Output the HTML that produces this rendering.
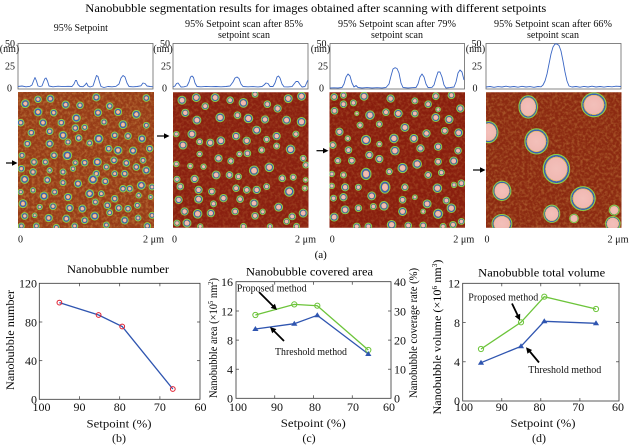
<!DOCTYPE html>
<html><head><meta charset="utf-8"><style>
html,body{margin:0;padding:0;background:#fff;}
svg{display:block;font-family:"Liberation Serif",serif;}
</style></head><body>
<svg width="629" height="445" viewBox="0 0 629 445" xmlns="http://www.w3.org/2000/svg">
<defs>
<radialGradient id="g1"><stop offset="0" stop-color="#f2bcb4"/><stop offset="0.42" stop-color="#f0b8b0"/><stop offset="0.43" stop-color="#d8ae4a"/><stop offset="0.53" stop-color="#d0a040"/><stop offset="0.54" stop-color="#3f63b4"/><stop offset="0.93" stop-color="#3f63b4"/><stop offset="0.94" stop-color="#8ccd48"/><stop offset="1" stop-color="#8ccd48"/></radialGradient>
<radialGradient id="g2"><stop offset="0" stop-color="#f2bcb6"/><stop offset="0.55" stop-color="#f0b8b2"/><stop offset="0.56" stop-color="#d8b050"/><stop offset="0.63" stop-color="#d0a848"/><stop offset="0.64" stop-color="#3d62b4"/><stop offset="0.93" stop-color="#3d62b4"/><stop offset="0.94" stop-color="#8ccd48"/><stop offset="1" stop-color="#8ccd48"/></radialGradient>
<radialGradient id="g4"><stop offset="0" stop-color="#f3c0ba"/><stop offset="0.78" stop-color="#f0b8b2"/><stop offset="0.79" stop-color="#dcbc5a"/><stop offset="0.84" stop-color="#d4b050"/><stop offset="0.845" stop-color="#3d62b4"/><stop offset="0.95" stop-color="#3d62b4"/><stop offset="0.955" stop-color="#8ccd48"/><stop offset="1" stop-color="#8ccd48"/></radialGradient>
<filter id="tx" x="0" y="0" width="100%" height="100%">
<feTurbulence type="fractalNoise" baseFrequency="0.12" numOctaves="2" seed="5"/>
<feColorMatrix type="matrix" values="0 0 0 0 0.8  0 0 0 0 0.5  0 0 0 0 0.12  0 0 0 -2.4 1.45"/>
</filter>
</defs>

<!-- Main title -->
<text x="315.8" y="11.8" font-size="12" text-anchor="middle" textLength="461" lengthAdjust="spacingAndGlyphs">Nanobubble segmentation results for images obtained after scanning with different setpoints</text>

<!-- Subtitles -->
<g font-size="10" text-anchor="middle" fill="#111">
<text x="80.8" y="30.8">95% Setpoint</text>
<text x="244" y="27" textLength="118" lengthAdjust="spacingAndGlyphs">95% Setpoint scan after 85%</text>
<text x="244" y="38">setpoint scan</text>
<text x="397" y="27" textLength="118" lengthAdjust="spacingAndGlyphs">95% Setpoint scan after 79%</text>
<text x="397" y="38">setpoint scan</text>
<text x="553" y="27" textLength="118" lengthAdjust="spacingAndGlyphs">95% Setpoint scan after 66%</text>
<text x="553" y="38">setpoint scan</text>
</g>

<!-- Profile boxes -->
<g fill="none" stroke="#666" stroke-width="0.8">
<rect x="18" y="43.5" width="135" height="45.5"/>
<rect x="173" y="43.5" width="135" height="45.5"/>
<rect x="330" y="43.5" width="134.5" height="45.5"/>
<rect x="486" y="43.5" width="135" height="45.5"/>
</g>
<!-- Profile axis labels -->
<g font-size="10" text-anchor="middle" fill="#111">
<text x="10" y="47">50</text><text x="9.5" y="52">(nm)</text><text x="10" y="69.5">25</text><text x="9.5" y="91.5">0</text>
<text x="165" y="47">50</text><text x="163" y="52">(nm)</text><text x="166" y="69.5">25</text><text x="164.5" y="91.5">0</text>
<text x="321.5" y="47">50</text><text x="320.5" y="52">(nm)</text><text x="323" y="69.5">25</text><text x="321.5" y="91.5">0</text>
<text x="476.5" y="47">50</text><text x="475.5" y="52">(nm)</text><text x="477" y="69.5">25</text><text x="475" y="91.5">0</text>
</g>
<!-- Profile curves -->
<g fill="none" stroke="#3a66c4" stroke-width="0.9" stroke-linejoin="round">
<polyline points="18,86.5 22,86 26,86.8 30,86.3 32,85 33.5,81 35,77.5 36.5,81 38,86 40,86.5 42,86 43.5,82 45,78.5 46,78 47.5,81 49,86 53,86.8 58,86.2 63,86.6 68,86.3 72,86.5 74,84 75.5,80.5 76.5,80.5 78,84.5 80,86.5 83,86.7 85,85 86.5,83 88,86 90,87 93,86 95,80 96.5,75.5 98,76.5 99.5,82 101,86.5 104,87.5 108,86.5 112,86.8 116,86.3 119,84 121,78 123,75.5 125,77 127,83 129,86.5 133,86.8 137,86.5 141,85.8 143,83 145,83.5 147,86 150,86.5 153,86.8"/>
<polyline points="173,87 175,86 176.5,83.5 178,83 179.5,85 181,87 184,86.8 187,86 189,82 190.5,77 192,76 193.5,77.5 195,83 197,86.5 201,86.8 206,86.4 211,86.7 216,86.5 221,86.8 226,86.5 230,86 233,82 235,78 237,77 239,78.5 241,84 243,86.5 248,86.8 253,86.6 258,86.9 262,86.5 264,85 266,83 268,83.5 270,86.5 273,86.5 275,83 277,77 278.5,76 280,78 282,84 284,86.8 288,86.9 292,86.6 294,84 296,81.5 298,81.5 300,84.5 302,87 305,86.5 307,82 308,80"/>
<polyline points="330,88 334,87.8 338,88 342,87.5 344,84 346,77 348,74 350,76 352,83 354,87 356,85.5 358,87.5 362,88 367,87.6 372,88 377,87.7 382,88 386,87.5 389,84 391,76 393,69 395,67.7 397,68.5 399,73 401,83 403,87.5 408,88 412,87.7 416,87.5 418,84 420,77 422,74 424,77 426,84 428,87.5 432,87.3 434,85 436,78 438,72 440,72 442,77 444,85 446,88 450,87.6 454,87 456,82 458,73 460,70 462,72 464,80"/>
<polyline points="486,87 490,86.5 494,87.3 498,86.6 502,87 506,86.2 510,87 514,86.5 518,87.2 522,86.3 526,87 530,86.6 534,87.3 538,86.5 541,86.8 543,85 545,81 547,74 549,64 551,54 553,47 555,44 557,44 559,45.5 561,51 563,61 565,72 567,81 569,86 572,87 576,86.5 580,87.2 584,86.4 588,87 592,86.2 596,87 600,86.5 604,87.1 608,86.4 612,86.8 616,86.2 621,86.5"/>
</g>

<!-- Panel 1 image -->
<svg x="18" y="92" width="136" height="136" viewBox="0 0 408 408">
<rect width="408" height="408" fill="#973c18"/>
<rect width="408" height="408" filter="url(#tx)" opacity="0.35"/>
<g fill="url(#g1)" stroke="#8ccd48" stroke-width="3">
<circle cx="22" cy="35" r="12"/><circle cx="60" cy="22" r="10"/><circle cx="97" cy="20" r="11"/><circle cx="143" cy="38" r="11"/><circle cx="186" cy="40" r="10"/><circle cx="235" cy="16" r="11"/><circle cx="275" cy="42" r="10"/><circle cx="385" cy="18" r="10"/>
<circle cx="60" cy="60" r="12"/><circle cx="107" cy="62" r="10"/><circle cx="175" cy="78" r="12"/><circle cx="240" cy="62" r="11"/><circle cx="300" cy="60" r="11"/><circle cx="355" cy="67" r="12"/>
<circle cx="8" cy="92" r="10"/><circle cx="75" cy="92" r="11"/><circle cx="130" cy="92" r="10"/><circle cx="200" cy="106" r="9"/><circle cx="258" cy="90" r="9"/><circle cx="315" cy="98" r="12"/><circle cx="385" cy="100" r="9"/>
<circle cx="40" cy="122" r="10"/><circle cx="95" cy="118" r="10"/><circle cx="135" cy="130" r="12"/><circle cx="172" cy="108" r="10"/><circle cx="182" cy="138" r="10"/><circle cx="242" cy="140" r="13"/><circle cx="290" cy="130" r="10"/><circle cx="330" cy="132" r="10"/><circle cx="372" cy="140" r="11"/>
<circle cx="28" cy="155" r="10"/><circle cx="95" cy="155" r="11"/><circle cx="150" cy="150" r="9"/><circle cx="215" cy="153" r="9"/><circle cx="272" cy="170" r="10"/><circle cx="300" cy="175" r="12"/><circle cx="345" cy="176" r="11"/><circle cx="395" cy="170" r="10"/>
<circle cx="12" cy="190" r="9"/><circle cx="48" cy="210" r="10"/><circle cx="82" cy="210" r="9"/><circle cx="108" cy="190" r="10"/><circle cx="148" cy="190" r="13"/><circle cx="172" cy="212" r="8"/><circle cx="200" cy="212" r="10"/><circle cx="238" cy="210" r="12"/><circle cx="288" cy="205" r="10"/><circle cx="325" cy="213" r="10"/><circle cx="375" cy="205" r="9"/>
<circle cx="10" cy="230" r="10"/><circle cx="45" cy="240" r="10"/><circle cx="95" cy="235" r="8"/><circle cx="135" cy="240" r="9"/><circle cx="165" cy="230" r="8"/><circle cx="235" cy="245" r="10"/><circle cx="265" cy="225" r="9"/><circle cx="290" cy="245" r="9"/><circle cx="320" cy="245" r="10"/><circle cx="355" cy="225" r="10"/><circle cx="385" cy="235" r="11"/>
<circle cx="20" cy="262" r="12"/><circle cx="88" cy="264" r="10"/><circle cx="135" cy="272" r="9"/><circle cx="180" cy="275" r="11"/><circle cx="225" cy="262" r="13"/><circle cx="262" cy="268" r="10"/><circle cx="315" cy="290" r="10"/><circle cx="335" cy="290" r="10"/><circle cx="370" cy="280" r="12"/><circle cx="402" cy="285" r="9"/>
<circle cx="8" cy="300" r="8"/><circle cx="45" cy="295" r="8"/><circle cx="78" cy="312" r="12"/><circle cx="110" cy="300" r="9"/><circle cx="150" cy="315" r="11"/><circle cx="215" cy="305" r="12"/><circle cx="250" cy="305" r="9"/><circle cx="290" cy="320" r="10"/><circle cx="362" cy="310" r="8"/><circle cx="398" cy="315" r="7"/>
<circle cx="15" cy="335" r="12"/><circle cx="65" cy="345" r="8"/><circle cx="105" cy="343" r="10"/><circle cx="155" cy="348" r="11"/><circle cx="193" cy="350" r="11"/><circle cx="232" cy="330" r="9"/><circle cx="268" cy="340" r="10"/><circle cx="302" cy="348" r="10"/><circle cx="330" cy="350" r="10"/><circle cx="358" cy="340" r="9"/>
<circle cx="20" cy="372" r="10"/><circle cx="50" cy="370" r="7"/><circle cx="92" cy="378" r="11"/><circle cx="145" cy="380" r="11"/><circle cx="200" cy="385" r="10"/><circle cx="230" cy="372" r="12"/><circle cx="275" cy="362" r="9"/><circle cx="320" cy="385" r="11"/><circle cx="360" cy="378" r="9"/><circle cx="402" cy="370" r="9"/>
<circle cx="10" cy="402" r="9"/><circle cx="55" cy="402" r="9"/><circle cx="115" cy="406" r="9"/><circle cx="170" cy="402" r="9"/><circle cx="265" cy="399" r="9"/><circle cx="388" cy="402" r="10"/>
</g>
</svg>

<!-- Panel 2 image -->
<svg x="173" y="92" width="135.5" height="136" viewBox="0 0 408 408">
<rect width="408" height="408" fill="#8a2010"/>
<rect width="408" height="408" filter="url(#tx)" opacity="0.2"/>
<g fill="url(#g2)" stroke="#8ccd48" stroke-width="3">
<circle cx="27" cy="24" r="12"/><circle cx="70" cy="16" r="12"/><circle cx="97" cy="42" r="10"/><circle cx="127" cy="16" r="12"/><circle cx="172" cy="24" r="10"/><circle cx="212" cy="32" r="13"/><circle cx="247" cy="6" r="9"/><circle cx="284" cy="36" r="10"/><circle cx="315" cy="49" r="11"/><circle cx="347" cy="19" r="12"/><circle cx="387" cy="12" r="12"/>
<circle cx="37" cy="62" r="11"/><circle cx="72" cy="84" r="12"/><circle cx="142" cy="76" r="13"/><circle cx="194" cy="69" r="10"/><circle cx="227" cy="79" r="13"/><circle cx="277" cy="82" r="11"/><circle cx="342" cy="84" r="12"/><circle cx="387" cy="89" r="13"/>
<circle cx="10" cy="126" r="8"/><circle cx="57" cy="126" r="12"/><circle cx="80" cy="149" r="9"/><circle cx="112" cy="152" r="11"/><circle cx="144" cy="146" r="12"/><circle cx="190" cy="132" r="11"/><circle cx="222" cy="146" r="11"/><circle cx="252" cy="114" r="12"/><circle cx="282" cy="142" r="9"/><circle cx="312" cy="132" r="11"/><circle cx="370" cy="126" r="9"/>
<circle cx="30" cy="159" r="12"/><circle cx="80" cy="186" r="8"/><circle cx="137" cy="199" r="11"/><circle cx="174" cy="207" r="9"/><circle cx="200" cy="186" r="8"/><circle cx="224" cy="184" r="10"/><circle cx="267" cy="174" r="9"/><circle cx="312" cy="162" r="9"/><circle cx="354" cy="172" r="13"/><circle cx="392" cy="199" r="9"/><circle cx="400" cy="219" r="9"/>
<circle cx="10" cy="216" r="8"/><circle cx="52" cy="222" r="8"/><circle cx="92" cy="224" r="8"/><circle cx="130" cy="249" r="12"/><circle cx="170" cy="249" r="10"/><circle cx="197" cy="254" r="9"/><circle cx="244" cy="236" r="14"/><circle cx="290" cy="226" r="13"/><circle cx="329" cy="259" r="10"/><circle cx="362" cy="256" r="9"/><circle cx="399" cy="264" r="7"/>
<circle cx="12" cy="262" r="9"/><circle cx="65" cy="261" r="11"/><circle cx="22" cy="284" r="10"/><circle cx="77" cy="294" r="11"/><circle cx="117" cy="299" r="10"/><circle cx="152" cy="319" r="11"/><circle cx="190" cy="289" r="10"/><circle cx="222" cy="294" r="10"/><circle cx="252" cy="294" r="11"/><circle cx="282" cy="284" r="9"/><circle cx="350" cy="299" r="14"/><circle cx="397" cy="289" r="8"/>
<circle cx="17" cy="324" r="11"/><circle cx="77" cy="322" r="12"/><circle cx="122" cy="336" r="9"/><circle cx="202" cy="322" r="10"/><circle cx="244" cy="334" r="12"/><circle cx="270" cy="360" r="8"/><circle cx="318" cy="346" r="12"/><circle cx="359" cy="374" r="10"/><circle cx="392" cy="364" r="12"/>
<circle cx="35" cy="359" r="11"/><circle cx="74" cy="366" r="13"/><circle cx="114" cy="364" r="11"/><circle cx="187" cy="359" r="10"/><circle cx="247" cy="372" r="10"/><circle cx="342" cy="389" r="9"/>
<circle cx="12" cy="394" r="9"/><circle cx="42" cy="394" r="12"/><circle cx="82" cy="404" r="8"/><circle cx="212" cy="404" r="9"/><circle cx="292" cy="404" r="8"/><circle cx="372" cy="404" r="9"/>
</g>
</svg>

<!-- Panel 3 image -->
<svg x="329.5" y="92" width="135.5" height="136" viewBox="0 0 408 408">
<rect width="408" height="408" fill="#891e0e"/>
<rect width="408" height="408" filter="url(#tx)" opacity="0.2"/>
<g fill="url(#g2)" stroke="#8ccd48" stroke-width="3">
<circle cx="14" cy="14" r="10"/><circle cx="42" cy="9" r="9"/><circle cx="72" cy="32" r="9"/><circle cx="104" cy="12" r="12"/><circle cx="184" cy="19" r="11"/><circle cx="257" cy="26" r="9"/><circle cx="297" cy="36" r="10"/><circle cx="320" cy="12" r="10"/><circle cx="367" cy="9" r="10"/>
<circle cx="15" cy="56" r="10"/><circle cx="42" cy="36" r="10"/><circle cx="82" cy="64" r="6"/><circle cx="122" cy="69" r="13"/><circle cx="170" cy="60" r="10"/><circle cx="207" cy="64" r="12"/><circle cx="257" cy="64" r="10"/><circle cx="320" cy="76" r="12"/><circle cx="360" cy="82" r="12"/><circle cx="394" cy="49" r="11"/><circle cx="327" cy="52" r="7"/>
<circle cx="30" cy="119" r="11"/><circle cx="92" cy="99" r="9"/><circle cx="150" cy="96" r="9"/><circle cx="227" cy="106" r="12"/><circle cx="292" cy="124" r="11"/><circle cx="347" cy="116" r="10"/><circle cx="389" cy="122" r="12"/>
<circle cx="55" cy="139" r="8"/><circle cx="110" cy="144" r="14"/><circle cx="150" cy="156" r="8"/><circle cx="194" cy="139" r="13"/><circle cx="254" cy="139" r="12"/><circle cx="10" cy="159" r="10"/>
<circle cx="57" cy="174" r="10"/><circle cx="120" cy="189" r="11"/><circle cx="197" cy="176" r="13"/><circle cx="274" cy="169" r="11"/><circle cx="327" cy="164" r="11"/><circle cx="387" cy="176" r="10"/>
<circle cx="25" cy="206" r="9"/><circle cx="67" cy="206" r="10"/><circle cx="150" cy="201" r="11"/><circle cx="264" cy="216" r="13"/><circle cx="327" cy="209" r="10"/><circle cx="374" cy="207" r="12"/><circle cx="220" cy="228" r="14"/>
<circle cx="7" cy="246" r="8"/><circle cx="42" cy="249" r="9"/><ellipse cx="110" cy="246" rx="15" ry="17"/><circle cx="180" cy="239" r="9"/><circle cx="297" cy="249" r="10"/><circle cx="337" cy="242" r="9"/><circle cx="397" cy="274" r="10"/><circle cx="375" cy="279" r="8"/>
<circle cx="47" cy="286" r="11"/><circle cx="87" cy="286" r="9"/><ellipse cx="167" cy="286" rx="15" ry="18"/><circle cx="227" cy="286" r="10"/><circle cx="325" cy="289" r="13"/>
<circle cx="12" cy="319" r="9"/><circle cx="42" cy="316" r="11"/><circle cx="127" cy="312" r="12"/><circle cx="220" cy="324" r="10"/><circle cx="257" cy="316" r="7"/><circle cx="294" cy="336" r="12"/><circle cx="352" cy="326" r="10"/><circle cx="7" cy="282" r="8"/>
<circle cx="47" cy="354" r="12"/><circle cx="87" cy="349" r="10"/><circle cx="132" cy="344" r="9"/><circle cx="164" cy="342" r="13"/><circle cx="220" cy="359" r="12"/><circle cx="282" cy="359" r="7"/><circle cx="327" cy="366" r="14"/><circle cx="367" cy="349" r="13"/>
<circle cx="14" cy="376" r="12"/><circle cx="82" cy="404" r="10"/><circle cx="117" cy="404" r="10"/><circle cx="187" cy="399" r="13"/><circle cx="237" cy="401" r="10"/><circle cx="282" cy="401" r="10"/><circle cx="342" cy="404" r="9"/><circle cx="372" cy="399" r="10"/><circle cx="397" cy="389" r="9"/>
</g>
</svg>

<!-- Panel 4 image -->
<svg x="486" y="92" width="135.5" height="136" viewBox="0 0 408 408">
<rect width="408" height="408" fill="#8c2a11"/>
<rect width="408" height="408" filter="url(#tx)" opacity="0.3"/>
<g fill="url(#g4)" stroke="#8ccd48" stroke-width="3">
<ellipse cx="127" cy="44" rx="28" ry="34"/><ellipse cx="325" cy="38" rx="37" ry="36"/><ellipse cx="8" cy="120" rx="28" ry="32"/><ellipse cx="152" cy="148" rx="35" ry="38"/><ellipse cx="212" cy="231" rx="40" ry="44"/><ellipse cx="292" cy="320" rx="37" ry="36"/><ellipse cx="48" cy="297" rx="27" ry="29"/><ellipse cx="198" cy="366" rx="24" ry="26"/><circle cx="265" cy="380" r="13"/><circle cx="386" cy="355" r="15"/><ellipse cx="48" cy="396" rx="30" ry="28"/><circle cx="382" cy="396" r="22"/>
</g>
</svg>

<!-- image arrows -->
<g fill="#000" stroke="#000">
<line x1="6" y1="163" x2="13" y2="163" stroke-width="1.2"/><polygon points="17.5,163 12,160.3 12,165.7" stroke="none"/>
<line x1="157" y1="136" x2="165" y2="136" stroke-width="1.2"/><polygon points="169.5,136 164,133.3 164,138.7" stroke="none"/>
<line x1="316.5" y1="150.7" x2="324" y2="150.7" stroke-width="1.2"/><polygon points="328.5,150.7 323,148 323,153.4" stroke="none"/>
<line x1="473" y1="170" x2="481" y2="170" stroke-width="1.2"/><polygon points="485.5,170 480,167.3 480,172.7" stroke="none"/>
</g>

<!-- image axis labels -->
<g font-size="10" fill="#111">
<text x="20.5" y="242.5" text-anchor="middle">0</text><text x="143" y="242.5" textLength="21" lengthAdjust="spacingAndGlyphs">2 μm</text>
<text x="174.5" y="242.5" text-anchor="middle">0</text><text x="295" y="242.5" textLength="21" lengthAdjust="spacingAndGlyphs">2 μm</text>
<text x="332.3" y="242.5" text-anchor="middle">0</text><text x="453.3" y="242.5" textLength="21" lengthAdjust="spacingAndGlyphs">2 μm</text>
<text x="487" y="242.5" text-anchor="middle">0</text><text x="607.5" y="242.5" textLength="21" lengthAdjust="spacingAndGlyphs">2 μm</text>
</g>
<text x="320.7" y="258" font-size="11" text-anchor="middle">(a)</text>

<!-- ============ Chart (b) ============ -->
<text x="118" y="273" font-size="12" text-anchor="middle" textLength="102" lengthAdjust="spacingAndGlyphs">Nanobubble number</text>
<rect x="39.3" y="283.3" width="160.7" height="116" fill="none" stroke="#333" stroke-width="0.8"/>
<g stroke="#333" stroke-width="0.7">
<line x1="79.5" y1="399.3" x2="79.5" y2="396.3"/><line x1="119.7" y1="399.3" x2="119.7" y2="396.3"/><line x1="159.9" y1="399.3" x2="159.9" y2="396.3"/>
<line x1="79.5" y1="283.3" x2="79.5" y2="286.3"/><line x1="119.7" y1="283.3" x2="119.7" y2="286.3"/><line x1="159.9" y1="283.3" x2="159.9" y2="286.3"/>
<line x1="39.3" y1="360.7" x2="42.3" y2="360.7"/><line x1="39.3" y1="322" x2="42.3" y2="322"/>
<line x1="200" y1="360.7" x2="197" y2="360.7"/><line x1="200" y1="322" x2="197" y2="322"/>
</g>
<g font-size="12" fill="#111" text-anchor="end">
<text x="37" y="403.5">0</text><text x="37" y="365">40</text><text x="37" y="326.3">80</text><text x="37" y="287.6">120</text>
</g>
<g font-size="12" fill="#111" text-anchor="middle">
<text x="41.5" y="411">100</text><text x="79.5" y="411">90</text><text x="119.7" y="411">80</text><text x="159.9" y="411">70</text><text x="200.5" y="411">60</text>
<text x="119" y="427.5" textLength="65" lengthAdjust="spacingAndGlyphs">Setpoint  (%)</text>
<text x="119" y="442">(b)</text>
</g>
<text transform="translate(14,340) rotate(-90)" font-size="12" text-anchor="middle" textLength="100" lengthAdjust="spacingAndGlyphs">Nanobubble number</text>
<polyline points="59.4,302.6 98.6,315 122.2,326.5 172.8,389" fill="none" stroke="#2f55b0" stroke-width="1.3"/>
<g fill="none" stroke="#e02030" stroke-width="1">
<circle cx="59.4" cy="302.6" r="2.4"/><circle cx="98.6" cy="315" r="2.4"/><circle cx="122.2" cy="326.5" r="2.4"/><circle cx="172.8" cy="389" r="2.4"/>
</g>

<!-- ============ Chart (c) ============ -->
<text x="309.5" y="275.5" font-size="12" text-anchor="middle" textLength="127" lengthAdjust="spacingAndGlyphs">Nanobubble covered area</text>
<rect x="236" y="281.7" width="155" height="116.6" fill="none" stroke="#333" stroke-width="0.8"/>
<g stroke="#333" stroke-width="0.7">
<line x1="274.75" y1="398.3" x2="274.75" y2="395.3"/><line x1="313.5" y1="398.3" x2="313.5" y2="395.3"/><line x1="352.25" y1="398.3" x2="352.25" y2="395.3"/>
<line x1="274.75" y1="281.7" x2="274.75" y2="284.7"/><line x1="313.5" y1="281.7" x2="313.5" y2="284.7"/><line x1="352.25" y1="281.7" x2="352.25" y2="284.7"/>
<line x1="236" y1="369.2" x2="239" y2="369.2"/><line x1="236" y1="340.1" x2="239" y2="340.1"/><line x1="236" y1="311" x2="239" y2="311"/>
<line x1="391" y1="369.2" x2="388" y2="369.2"/><line x1="391" y1="340.1" x2="388" y2="340.1"/><line x1="391" y1="311" x2="388" y2="311"/>
</g>
<g font-size="12" fill="#111" text-anchor="end">
<text x="233" y="402.5">0</text><text x="233" y="373.5">4</text><text x="233" y="344.4">8</text><text x="233" y="315.3">12</text><text x="233" y="286">16</text>
</g>
<g font-size="12" fill="#111" text-anchor="start">
<text x="394" y="402.5">0</text><text x="394" y="373.5">10</text><text x="394" y="344.4">20</text><text x="394" y="315.3">30</text><text x="394" y="286">40</text>
</g>
<g font-size="12" fill="#111" text-anchor="middle">
<text x="238" y="411">100</text><text x="277" y="411">90</text><text x="315" y="411">80</text><text x="353" y="411">70</text><text x="389" y="411">60</text>
<text x="313.3" y="427" textLength="65" lengthAdjust="spacingAndGlyphs">Setpoint  (%)</text>
<text x="309" y="442">(c)</text>
</g>
<text transform="translate(217,338) rotate(-90)" font-size="11.5" text-anchor="middle" textLength="120" lengthAdjust="spacingAndGlyphs">Nanobubble area (×10<tspan font-size="7" dy="-4">5</tspan><tspan dy="4"> nm</tspan><tspan font-size="7" dy="-4">2</tspan><tspan dy="4">)</tspan></text>
<text transform="translate(417,333) rotate(-90)" font-size="11.5" text-anchor="middle" textLength="130" lengthAdjust="spacingAndGlyphs">Nanobubble coverage rate (%)</text>
<polyline points="255.4,315 294.3,304.4 317.3,305.7 368.3,350" fill="none" stroke="#6cc43a" stroke-width="1.3"/>
<polyline points="255.4,329 294.3,323.7 317.3,315.3 368.3,354" fill="none" stroke="#2f55b0" stroke-width="1.3"/>
<g fill="none" stroke="#6cc43a" stroke-width="1">
<circle cx="255.4" cy="315" r="2.6"/><circle cx="294.3" cy="304.4" r="2.6"/><circle cx="317.3" cy="305.7" r="2.6"/><circle cx="368.3" cy="350" r="2.6"/>
</g>
<g fill="#2f55b0">
<polygon points="255.4,326 252.3,331 258.5,331"/><polygon points="294.3,320.7 291.2,325.7 297.4,325.7"/><polygon points="317.3,312.3 314.2,317.3 320.4,317.3"/><polygon points="368.3,351 365.2,356 371.4,356"/>
</g>
<g font-size="11" fill="#111">
<text x="236.7" y="291.5" textLength="70" lengthAdjust="spacingAndGlyphs">Proposed method</text>
<text x="275" y="355" textLength="72" lengthAdjust="spacingAndGlyphs">Threshold method</text>
</g>
<g stroke="#000" stroke-width="1.8" fill="#000">
<line x1="259" y1="292" x2="273" y2="306"/><polygon points="277,310 270.7,307.9 274.9,303.7" stroke="none"/>
<line x1="284" y1="341" x2="273" y2="330"/><polygon points="270,327 276.4,329.1 272.2,333.3" stroke="none"/>
</g>

<!-- ============ Chart (d) ============ -->
<text x="541.7" y="276.5" font-size="12" text-anchor="middle" textLength="127" lengthAdjust="spacingAndGlyphs">Nanobubble total volume</text>
<rect x="462.7" y="283.3" width="156.3" height="117.7" fill="none" stroke="#333" stroke-width="0.8"/>
<g stroke="#333" stroke-width="0.7">
<line x1="501.8" y1="401" x2="501.8" y2="398"/><line x1="540.8" y1="401" x2="540.8" y2="398"/><line x1="579.9" y1="401" x2="579.9" y2="398"/>
<line x1="501.8" y1="283.3" x2="501.8" y2="286.3"/><line x1="540.8" y1="283.3" x2="540.8" y2="286.3"/><line x1="579.9" y1="283.3" x2="579.9" y2="286.3"/>
<line x1="462.7" y1="361.8" x2="465.7" y2="361.8"/><line x1="462.7" y1="322.6" x2="465.7" y2="322.6"/>
<line x1="619" y1="361.8" x2="616" y2="361.8"/><line x1="619" y1="322.6" x2="616" y2="322.6"/>
</g>
<g font-size="12" fill="#111" text-anchor="end">
<text x="460" y="405">0</text><text x="460" y="366">4</text><text x="460" y="326.8">8</text><text x="460" y="287.6">12</text>
</g>
<g font-size="12" fill="#111" text-anchor="middle">
<text x="464" y="411">100</text><text x="501.8" y="411">90</text><text x="539.5" y="411">80</text><text x="578.3" y="411">70</text><text x="618" y="411">60</text>
<text x="543" y="427" textLength="65" lengthAdjust="spacingAndGlyphs">Setpoint  (%)</text>
<text x="539" y="442">(d)</text>
</g>
<text transform="translate(441,337) rotate(-90)" font-size="11.5" text-anchor="middle" textLength="155" lengthAdjust="spacingAndGlyphs">Nanobubble volume (×10<tspan font-size="7" dy="-4">6</tspan><tspan dy="4"> nm</tspan><tspan font-size="7" dy="-4">3</tspan><tspan dy="4">)</tspan></text>
<polyline points="481,349 521,322.3 544.3,296.7 596,309" fill="none" stroke="#6cc43a" stroke-width="1.3"/>
<polyline points="481,362.7 521,346.3 544.3,321.3 596,323.3" fill="none" stroke="#2f55b0" stroke-width="1.3"/>
<g fill="none" stroke="#6cc43a" stroke-width="1">
<circle cx="481" cy="349" r="2.6"/><circle cx="521" cy="322.3" r="2.6"/><circle cx="544.3" cy="296.7" r="2.6"/><circle cx="596" cy="309" r="2.6"/>
</g>
<g fill="#2f55b0">
<polygon points="481,359.7 477.9,364.7 484.1,364.7"/><polygon points="521,343.3 517.9,348.3 524.1,348.3"/><polygon points="544.3,318.3 541.2,323.3 547.4,323.3"/><polygon points="596,320.3 592.9,325.3 599.1,325.3"/>
</g>
<g font-size="11" fill="#111">
<text x="468.3" y="300.5" textLength="70" lengthAdjust="spacingAndGlyphs">Proposed method</text>
<text x="528.3" y="373" textLength="73" lengthAdjust="spacingAndGlyphs">Threshold method</text>
</g>
<g stroke="#000" stroke-width="1.8" fill="#000">
<line x1="512" y1="303.5" x2="518" y2="316"/><polygon points="520,320.5 514.8,316.3 520.2,313.7" stroke="none"/>
<line x1="539" y1="362.5" x2="529" y2="350.5"/><polygon points="526,347.3 532.1,350 527.5,353.8" stroke="none"/>
</g>
</svg>
</body></html>
